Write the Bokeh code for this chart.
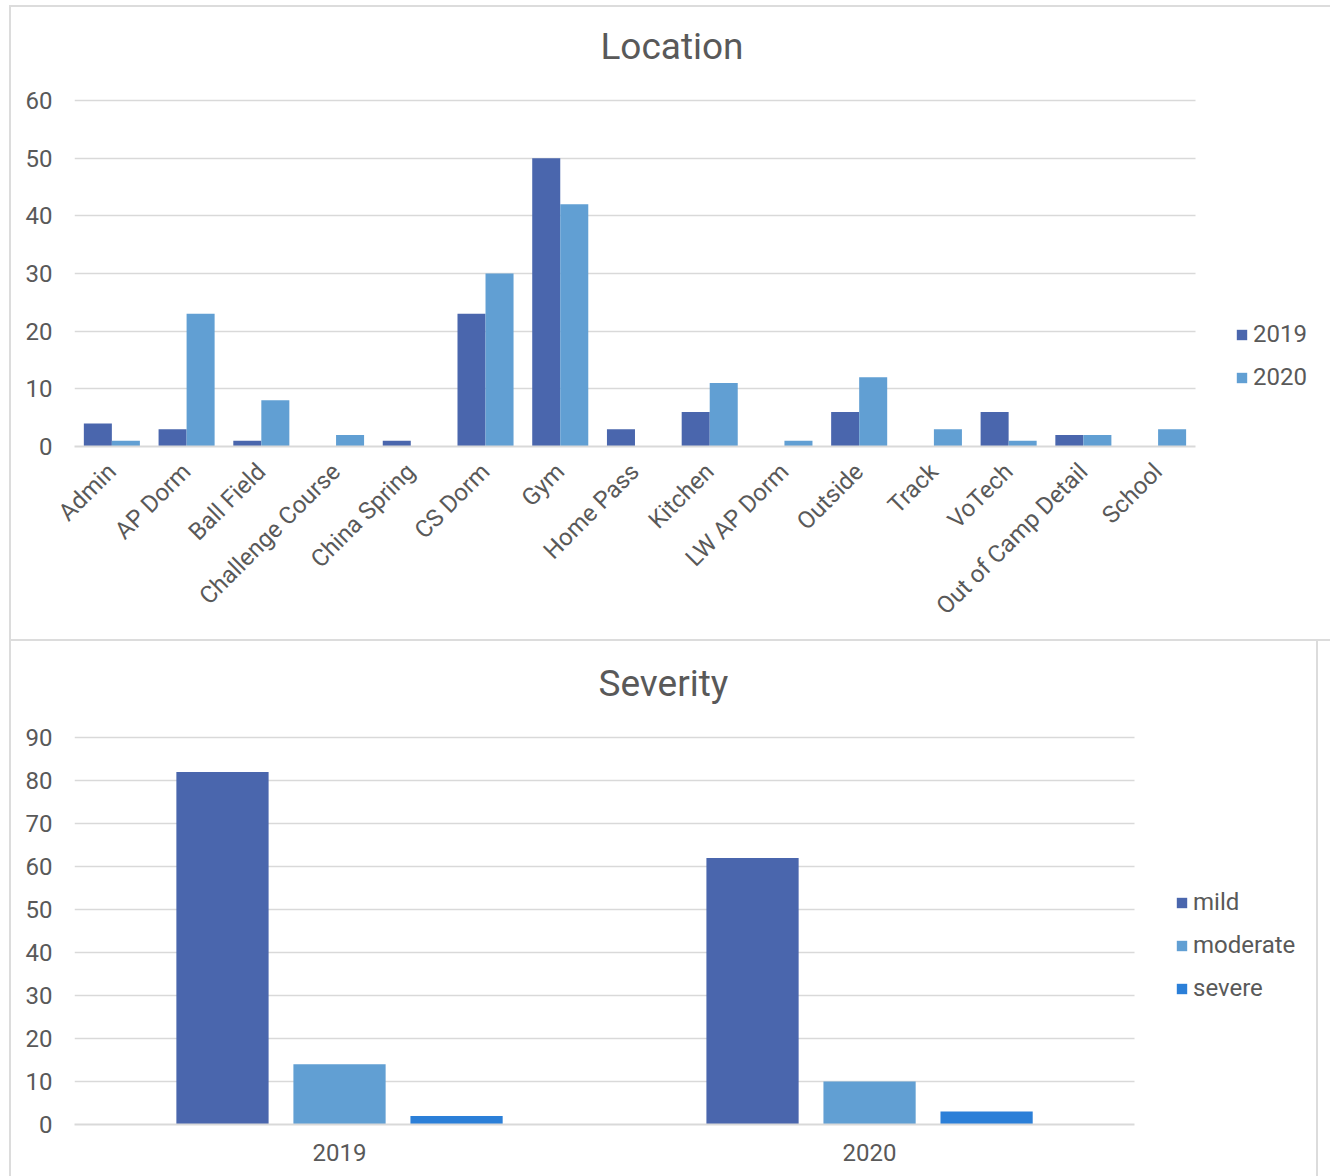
import math
from bokeh.plotting import figure
from bokeh.models import (Range1d, Legend, LegendItem, Label,
                          FixedTicker, ColumnDataSource)
from bokeh.transform import dodge
from bokeh.embed import file_html
from bokeh.resources import INLINE

# ---------------- data ----------------
locations = ["Admin", "AP Dorm", "Ball Field", "Challenge Course", "China Spring",
             "CS Dorm", "Gym", "Home Pass", "Kitchen", "LW AP Dorm", "Outside",
             "Track", "VoTech", "Out of Camp Detail", "School"]
loc_2019 = [4, 3, 1, 0, 1, 23, 50, 3, 6, 0, 6, 0, 6, 2, 0]
loc_2020 = [1, 23, 8, 2, 0, 30, 42, 0, 11, 1, 12, 3, 1, 2, 3]
loc_ticks = [0, 10, 20, 30, 40, 50, 60]

years = ["2019", "2020"]
sev_mild = [82, 62]
sev_moderate = [14, 10]
sev_severe = [2, 3]
sev_ticks = [0, 10, 20, 30, 40, 50, 60, 70, 80, 90]

# ---------------- style ----------------
FONT = "Roboto"
TXT = "#595959"
GRID = "#d9d9d9"
C1 = "#4a66ad"
C2 = "#619fd3"
C3 = "#2b7fd8"
BORDER = "2px solid #dcdcdc"


def style_axes(p, ticks, cats, n):
    # categories sit at the centres of unit-wide slots 0..n
    centres = [i + 0.5 for i in range(n)]
    p.xgrid.grid_line_color = None
    g = p.ygrid[0]
    g.ticker = FixedTicker(ticks=ticks)
    g.grid_line_color = GRID
    g.grid_line_width = 1.5
    if hasattr(g, "cross_bounds"):
        g.cross_bounds = (0, n)
    else:
        g.grid_line_color = None
        p.segment(x0=0, x1=n, y0=ticks, y1=ticks, line_color=GRID, line_width=1.5,
                  level="underlay")
    p.yaxis.ticker = FixedTicker(ticks=ticks)
    p.yaxis.axis_line_color = None
    p.yaxis.major_tick_line_color = None
    p.yaxis.minor_tick_line_color = None
    p.yaxis.major_label_text_font = FONT
    p.yaxis.major_label_text_font_size = "24px"
    p.yaxis.major_label_text_color = TXT
    p.yaxis.major_label_standoff = 16
    p.xaxis.ticker = FixedTicker(ticks=centres)
    p.xaxis.major_label_overrides = {c: lab for c, lab in zip(centres, cats)}
    p.xaxis.bounds = (0, n)
    p.xaxis.axis_line_color = GRID
    p.xaxis.axis_line_width = 2
    p.xaxis.major_tick_line_color = None
    p.xaxis.minor_tick_line_color = None
    p.xaxis.major_label_text_font = FONT
    p.xaxis.major_label_text_font_size = "24px"
    p.xaxis.major_label_text_color = TXT
    p.outline_line_color = None
    p.background_fill_color = "white"
    p.border_fill_color = "white"
    return centres


def make_legend(items, loc, spacing):
    lg = Legend(items=items, location=loc)
    lg.border_line_color = None
    lg.background_fill_alpha = 0
    lg.padding = 0
    lg.margin = 0
    lg.glyph_width = 13
    lg.glyph_height = 13
    lg.label_text_font = FONT
    lg.label_text_font_size = "24px"
    lg.label_text_color = TXT
    lg.label_standoff = 5
    lg.label_height = 22
    lg.spacing = spacing
    return lg


def make_title(text, x, y):
    return Label(x=x, y=y, text=text, text_align="center", text_baseline="middle",
                 text_font=FONT, text_font_size="37px", text_color=TXT)


# ---------------- Location chart ----------------
n1 = len(locations)
p1 = figure(x_range=Range1d(0, 16.807), y_range=Range1d(0, 76.13),
            width=1321, height=636, output_backend="svg", toolbar_location=None,
            min_border_left=63, min_border_right=2, min_border_top=0,
            min_border_bottom=197)
cx1 = style_axes(p1, loc_ticks, locations, n1)
p1.xaxis.major_label_orientation = math.pi / 4
p1.xaxis.major_label_standoff = 15
src1 = ColumnDataSource(dict(x=cx1, y2019=loc_2019, y2020=loc_2020))
r1 = p1.vbar(x=dodge("x", -0.1875), top="y2019", width=0.375,
             source=src1, fill_color=C1, line_color=None)
r2 = p1.vbar(x=dodge("x", 0.1875), top="y2020", width=0.375,
             source=src1, fill_color=C2, line_color=None)
p1.add_layout(make_legend([LegendItem(label="2019", renderers=[r1]),
                           LegendItem(label="2020", renderers=[r2])],
                          (1161, 55), 15))
p1.add_layout(make_title("Location", 7.995, 69.3))
p1.margin = (5, 0, 0, 9)
p1.styles = {"border-left": BORDER, "border-top": BORDER, "border-bottom": BORDER}

# ---------------- Severity chart ----------------
n2 = len(years)
p2 = figure(x_range=Range1d(0, 2.347), y_range=Range1d(0, 111.86),
            width=1309, height=535, output_backend="svg", toolbar_location=None,
            min_border_left=63, min_border_right=2, min_border_top=2,
            min_border_bottom=52)
cx2 = style_axes(p2, sev_ticks, years, n2)
p2.xaxis.major_label_standoff = 13
src2 = ColumnDataSource(dict(x=cx2, mild=sev_mild, moderate=sev_moderate,
                             severe=sev_severe))
s1 = p2.vbar(x=dodge("x", -0.2208), top="mild", width=0.174,
             source=src2, fill_color=C1, line_color=None)
s2 = p2.vbar(x=dodge("x", 0.0), top="moderate", width=0.174,
             source=src2, fill_color=C2, line_color=None)
s3 = p2.vbar(x=dodge("x", 0.2208), top="severe", width=0.174,
             source=src2, fill_color=C3, line_color=None)
p2.add_layout(make_legend([LegendItem(label="mild", renderers=[s1]),
                           LegendItem(label="moderate", renderers=[s2]),
                           LegendItem(label="severe", renderers=[s3])],
                          (1101, 122), 15))
p2.add_layout(make_title("Severity", 1.111, 102.5))
p2.margin = (0, 0, 0, 9)
p2.styles = {"border-left": BORDER, "border-right": BORDER}

open("out.html", "w").write(file_html([p1, p2], INLINE))
